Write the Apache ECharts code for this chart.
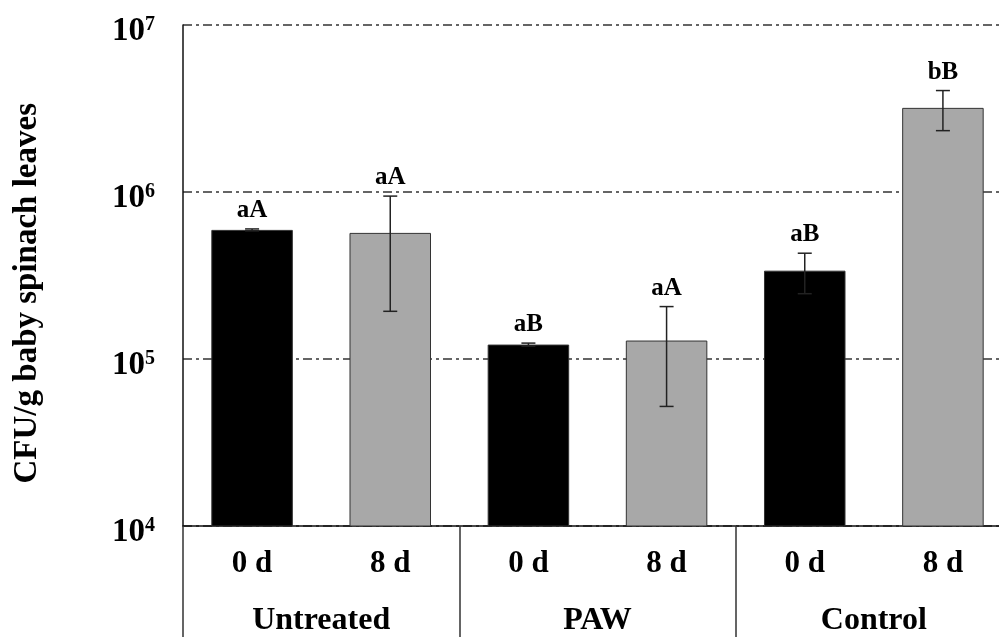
<!DOCTYPE html>
<html>
<head>
<meta charset="utf-8">
<script src="https://cdn.jsdelivr.net/npm/echarts@6/dist/echarts.min.js"></script>
<style>
html,body{margin:0;padding:0;background:#fff;overflow:hidden;width:999px;height:637px;}
#main{width:1012px;height:637px;}
</style>
</head>
<body>
<div id="main"></div>
<script>
// ---- data ----
const groups = ['Untreated', 'PAW', 'Control'];
const days = ['0 d', '8 d', '0 d', '8 d', '0 d', '8 d'];
const means = [593000, 569000, 122000, 129000, 338000, 3190000];
const sds = [8000, 376000, 2500, 77000, 92000, 860000];
const letters = ['aA', 'aA', 'aB', 'aA', 'aB', 'bB'];
const yTitle = 'CFU/g baby spinach leaves';

const FONT = '"Liberation Serif", "Times New Roman", serif';
const barColors = ['#000000', '#a8a8a8'];

const chart = echarts.init(document.getElementById('main'), null, {renderer: 'canvas'});

const barData = means.map((v, i) => ({
  value: v,
  itemStyle: {color: barColors[i % 2], borderColor: '#333', borderWidth: 1}
}));
const errData = means.map((v, i) => [i, v, v - sds[i], v + sds[i], letters[i]]);

const option = {
  backgroundColor: '#ffffff',
  animation: false,
  grid: {left: 183, top: 25, right: 0, bottom: 106, containLabel: false},
  xAxis: [
    {
      type: 'category',
      data: days,
      position: 'bottom',
      axisLine: {show: true, lineStyle: {color: '#111', width: 1.5}},
      axisTick: {show: false},
      axisLabel: {
        interval: 0, margin: 22,
        fontFamily: FONT, fontWeight: 'bold', fontSize: 31, color: '#000'
      }
    },
    {
      type: 'category',
      data: groups,
      position: 'bottom',
      axisLine: {show: false},
      axisTick: {show: true, length: 112, alignWithLabel: false, lineStyle: {color: '#333', width: 1.5}},
      axisLabel: {
        interval: 0, margin: 79,
        fontFamily: FONT, fontWeight: 'bold', fontSize: 32, color: '#000'
      }
    }
  ],
  yAxis: {
    type: 'log',
    logBase: 10,
    min: 1e4,
    max: 1e7,
    axisLine: {show: true, lineStyle: {color: '#111', width: 1.5}},
    axisTick: {show: false},
    splitLine: {show: true, lineStyle: {color: '#333', width: 1.5, type: [9, 4, 3, 4]}},
    axisLabel: {
      margin: 28,
      padding: [12, 0, 0, 0],
      formatter: function (v) {
        const e = Math.round(Math.log10(v));
        return '{b|10}{s|' + e + '}';
      },
      rich: {
        b: {fontFamily: FONT, fontWeight: 'bold', fontSize: 33, color: '#000'},
        s: {fontFamily: FONT, fontWeight: 'bold', fontSize: 20, color: '#000', verticalAlign: 'top'}
      }
    }
  },
  graphic: [
    {
      type: 'text',
      left: 11, top: 103,
      rotation: Math.PI / 2,
      style: {text: yTitle, font: 'bold 33px ' + FONT, fill: '#000'}
    }
  ],
  series: [
    {
      type: 'bar',
      xAxisIndex: 0,
      data: barData,
      barWidth: '59%'
    },
    {
      type: 'custom',
      xAxisIndex: 0,
      data: errData,
      z: 5,
      renderItem: function (params, api) {
        const x = api.value(0);
        const lo = api.coord([x, api.value(2)]);
        const hi = api.coord([x, api.value(3)]);
        const cap = 7;
        const ls = {stroke: '#222', lineWidth: 1.5};
        return {
          type: 'group',
          children: [
            {type: 'line', shape: {x1: hi[0], y1: hi[1], x2: lo[0], y2: lo[1]}, style: ls},
            {type: 'line', shape: {x1: hi[0] - cap, y1: hi[1], x2: hi[0] + cap, y2: hi[1]}, style: ls},
            {type: 'line', shape: {x1: lo[0] - cap, y1: lo[1], x2: lo[0] + cap, y2: lo[1]}, style: ls},
            {type: 'text', style: {
              text: api.value(4), x: hi[0], y: hi[1] - 6,
              align: 'center', verticalAlign: 'bottom',
              font: 'bold 25px ' + FONT, fill: '#000'
            }}
          ]
        };
      }
    }
  ]
};
chart.setOption(option);
</script>
</body>
</html>
